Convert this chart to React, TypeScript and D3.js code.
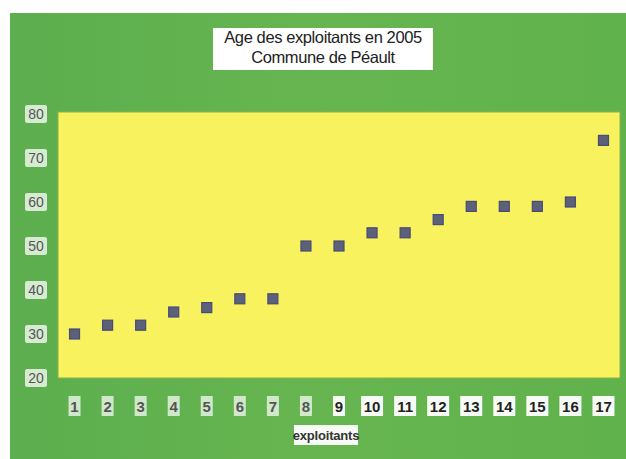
import React from "react";
import * as d3 from "d3";

const exploitants = [1, 2, 3, 4, 5, 6, 7, 8, 9, 10, 11, 12, 13, 14, 15, 16, 17];
const ages = [30, 32, 32, 35, 36, 38, 38, 50, 50, 53, 53, 56, 59, 59, 59, 60, 74];
const yTicks = [20, 30, 40, 50, 60, 70, 80];
const titleLines = ["Age des exploitants en 2005", "Commune de Péault"];
const xTitle = "exploitants";

const W = 626, H = 459;
const plot = { left: 58, right: 620, top: 112, bottom: 378 };

export default function App() {
  const x = d3.scaleLinear().domain([0.5, 17.5]).range([plot.left, plot.right]);
  const y = d3.scaleLinear().domain([20, 80]).range([plot.bottom, plot.top + 2]);
  const font = "'Liberation Sans', Arial, sans-serif";
  return (
    <svg width={W} height={H} style={{ position: "absolute", left: 0, top: 0 }} fontFamily={font}>
      <defs>
        <linearGradient id="grn" x1="0" x2="1" y1="0" y2="0">
          <stop offset="0" stopColor="#5cae4e" />
          <stop offset="0.5" stopColor="#66b550" />
          <stop offset="1" stopColor="#60b24c" />
        </linearGradient>
      </defs>
      <rect x={0} y={0} width={W} height={H} fill="#ffffff" />
      <rect x={10} y={13} width={W - 10} height={H - 13} fill="url(#grn)" />
      <rect x={plot.left} y={plot.top} width={plot.right - plot.left} height={plot.bottom - plot.top} fill="#f7f25e" stroke="#8fb04a" strokeWidth={1} />
      {/* title */}
      <rect x={213} y={28} width={220} height={42} fill="#ffffff" />
      {titleLines.map((t, i) => (
        <text key={t} x={323} y={43 + i * 20} textAnchor="middle" fontSize={16.5} fill="#222" letterSpacing={-0.4} fontWeight={500}>{t}</text>
      ))}
      {/* y ticks */}
      {yTicks.map((v) => (
        <g key={v}>
          <rect x={25} y={y(v) - 9} width={22} height={18} fill="#ffffff" opacity={0.75} rx={2} />
          <text x={36} y={y(v) + 5} textAnchor="middle" fontSize={14} fill="#555">{v}</text>
        </g>
      ))}
      {/* x ticks */}
      {exploitants.map((e) => {
        const w = e >= 10 ? 22 : 12;
        return (
          <g key={e}>
            <rect x={x(e) - w / 2} y={396} width={w} height={20} fill="#ffffff" opacity={e >= 9 ? 0.95 : 0.7} />
            <text x={x(e)} y={412} textAnchor="middle" fontSize={15} fontWeight="bold" fill={e >= 9 ? "#222" : "#555"}>{e}</text>
          </g>
        );
      })}
      <rect x={294} y={425} width={64} height={20} fill="#ffffff" opacity={0.95} />
      <text x={326} y={440} textAnchor="middle" fontSize={13} fontWeight="bold" fill="#333" letterSpacing={-0.2}>{xTitle}</text>
      {/* points */}
      {exploitants.map((e, i) => (
        <rect key={e} x={x(e) - 5} y={y(ages[i]) - 5} width={10} height={10} fill="#5c6079" stroke="#474c78" strokeWidth={1.2} />
      ))}
    </svg>
  );
}
